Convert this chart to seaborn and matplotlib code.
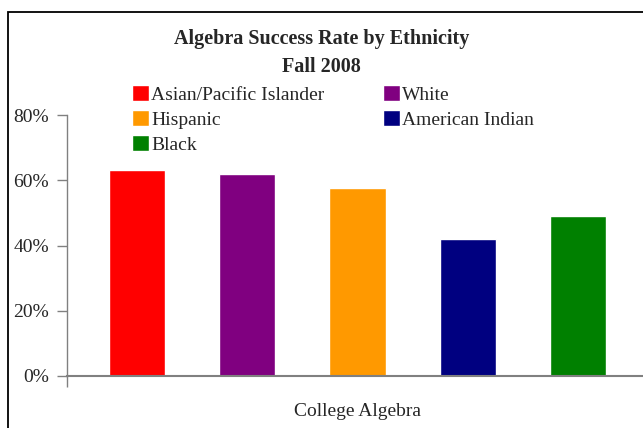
import pandas as pd
import seaborn as sns
import matplotlib.pyplot as plt
from matplotlib.patches import Rectangle
from matplotlib.ticker import PercentFormatter

# data
groups = ["Asian/Pacific Islander", "White", "Hispanic", "American Indian", "Black"]
rates = [0.63, 0.62, 0.575, 0.42, 0.49]
colors = ["#FF0000", "#800080", "#FF9900", "#000080", "#008000"]
course = "College Algebra"

df = pd.DataFrame({"group": groups, "rate": rates})

sns.set_style("white")
plt.rcParams["font.family"] = ["Liberation Serif", "DejaVu Serif"]

fig = plt.figure(figsize=(6.43, 4.28), dpi=100)
ax = fig.add_axes([67 / 643, 52 / 428, 581 / 643, 261 / 428])

sns.barplot(data=df, x="group", y="rate", hue="group", palette=colors,
            width=0.51, ax=ax, legend=True, saturation=1)

handles, labels = ax.get_legend_handles_labels()
ax.get_legend().remove()
order = [0, 2, 4, 1, 3]
fig.legend([handles[i] for i in order], [labels[i] for i in order],
           ncol=2, loc="upper left", bbox_to_anchor=(124 / 643, 1 - 77 / 428),
           frameon=False, fontsize=14, handlelength=0.9, handleheight=0.9,
           handletextpad=0.1, columnspacing=3.0, labelspacing=0.33,
           borderaxespad=0)

ax.set_ylim(0, 0.8)
ax.set_xlim(-0.636, 4.636)
ax.set_yticks([0, 0.2, 0.4, 0.6, 0.8])
ax.yaxis.set_major_formatter(PercentFormatter(1.0, decimals=0))
ax.set_xticks([-0.636])
ax.set_xticklabels([""])
ax.tick_params(axis="y", direction="out", length=7, width=1, color="#808080",
               labelsize=14, pad=6, left=True)
ax.tick_params(axis="x", direction="out", length=8, width=1, color="#808080", bottom=True)
ax.set_xlabel(course, fontsize=14, labelpad=8)
ax.set_ylabel("")

for s in ["top", "right"]:
    ax.spines[s].set_visible(False)
ax.spines["left"].set_color("#808080")
ax.spines["left"].set_linewidth(1)
ax.spines["bottom"].set_color("#808080")
ax.spines["bottom"].set_linewidth(1.5)

fig.text(0.5, 1 - 39 / 428, "Algebra Success Rate by Ethnicity", ha="center", va="center",
         fontsize=14.5, fontweight="bold")
fig.text(0.5, 1 - 67 / 428, "Fall 2008", ha="center", va="center",
         fontsize=14.5, fontweight="bold")

# outer chart frame (partly cut off at right and bottom)
fig.patches.append(Rectangle((8 / 643, -0.1), 1.0, 1 - 12 / 428 + 0.1,
                             transform=fig.transFigure, fill=False,
                             edgecolor="black", linewidth=1.3))

fig.savefig("out.png", dpi=100)
